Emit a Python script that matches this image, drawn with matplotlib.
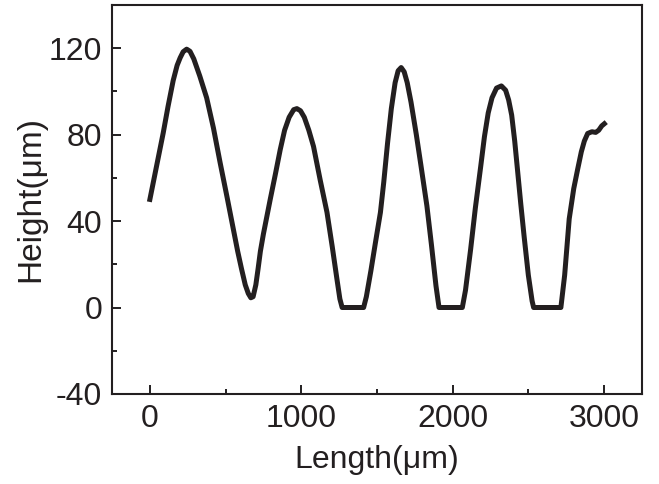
import matplotlib
matplotlib.use("Agg")
import matplotlib.pyplot as plt
from matplotlib.ticker import MultipleLocator

plt.rcParams['font.family'] = ['Liberation Sans', 'DejaVu Sans']
plt.rcParams['axes.unicode_minus'] = False

# profile (um)
length = [0, 88, 120, 154, 180, 200, 220, 243, 265, 290, 330, 375, 420, 464,
          510, 552, 580, 605, 630, 650, 667, 682, 700, 715, 730, 750, 795,
          830, 861, 890, 920, 950, 971, 995, 1020, 1050, 1081, 1125, 1170,
          1205, 1236, 1255, 1270,
          1412, 1430, 1460, 1490, 1523, 1545, 1570, 1595, 1620, 1640, 1660,
          1680, 1700, 1725, 1760, 1790, 1830, 1860, 1890, 1910,
          2064, 2085, 2119, 2150, 2185, 2210, 2235, 2260, 2290, 2322, 2350,
          2370, 2390, 2410, 2428, 2450, 2472, 2500, 2525, 2535,
          2715, 2740, 2770, 2800, 2826, 2850, 2870, 2892, 2920, 2945, 2965,
          2985, 3002]
height = [50, 80.7, 93, 105, 112, 115.5, 118.3, 119.5, 118.5, 115, 107, 97, 83, 67,
          51, 36, 26, 18, 10.5, 6.5, 4.5, 5, 10.5, 18, 26, 34, 50,
          62, 73, 82, 88, 91.5, 92, 91, 88, 82, 74.5, 59, 44,
          28, 13, 4, 0,
          0, 5, 17, 30, 44, 58, 76, 92, 104, 109.5, 111,
          109, 104, 95, 80, 66, 47, 29, 10, 0,
          0, 8, 27, 46, 65, 79, 90, 97, 101.5, 102.5, 100.5,
          96, 89, 77, 64, 48, 33, 15, 3, 0,
          0, 15, 41, 55, 64, 72, 77, 80.5, 81.3, 81, 82,
          84, 85]

ink = '#231f20'

fig = plt.figure(figsize=(6.59, 4.84), dpi=100)
ax = fig.add_axes([0.170, 0.186, 0.804, 0.804])

ax.plot(length, height, color=ink, lw=3.6, solid_joinstyle='round')

ax.set_xlim(-250, 3250)
ax.set_ylim(-40, 140)
ax.xaxis.set_major_locator(MultipleLocator(1000))
ax.xaxis.set_minor_locator(MultipleLocator(500))
ax.yaxis.set_major_locator(MultipleLocator(40))
ax.yaxis.set_minor_locator(MultipleLocator(20))

for s in ax.spines.values():
    s.set_linewidth(1.5)
    s.set_color(ink)
ax.tick_params(which='both', direction='in', top=False, right=False,
               width=1.4, color=ink, labelsize=23, labelcolor=ink)
ax.tick_params(which='major', length=6.5)
ax.tick_params(which='minor', length=3.5)
ax.tick_params(axis='y', pad=7)
ax.tick_params(axis='x', pad=7)

ax.set_xlabel('Length(\u03bcm)', fontsize=23, color=ink, labelpad=8)
ax.set_ylabel('Height(\u03bcm)', fontsize=24, color=ink, labelpad=2)

fig.savefig('out.png', dpi=100)
